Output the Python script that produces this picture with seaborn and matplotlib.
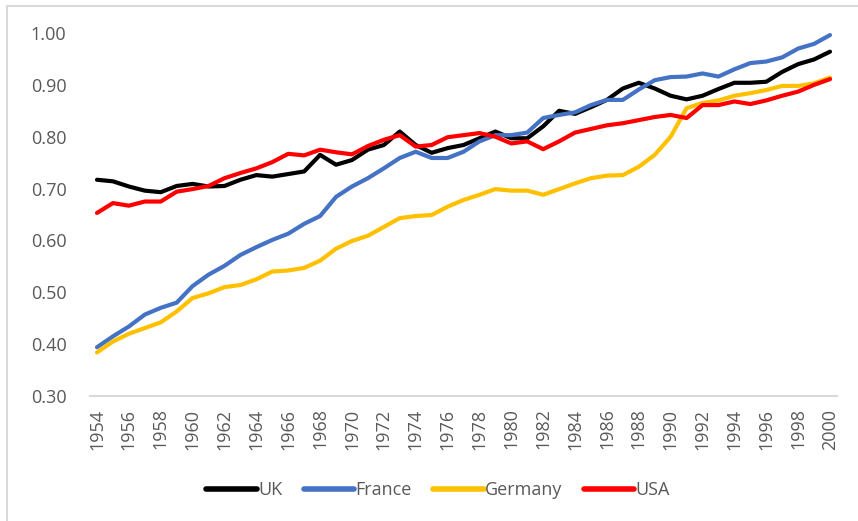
import numpy as np
import pandas as pd
import matplotlib
matplotlib.use("Agg")
import matplotlib.pyplot as plt
import seaborn as sns
from matplotlib.lines import Line2D

years = list(range(1954, 2001))

uk = [0.717, 0.714, 0.704, 0.696, 0.693, 0.705, 0.709, 0.704, 0.705, 0.717,
      0.726, 0.723, 0.728, 0.733, 0.765, 0.746, 0.755, 0.775, 0.784, 0.810,
      0.784, 0.769, 0.778, 0.784, 0.797, 0.810, 0.797, 0.797, 0.820, 0.850,
      0.844, 0.857, 0.871, 0.893, 0.904, 0.893, 0.879, 0.872, 0.879, 0.892,
      0.904, 0.904, 0.906, 0.925, 0.940, 0.949, 0.964]

france = [0.394, 0.415, 0.434, 0.457, 0.470, 0.480, 0.512, 0.534, 0.551, 0.572,
          0.587, 0.601, 0.613, 0.632, 0.647, 0.684, 0.704, 0.720, 0.739, 0.759,
          0.771, 0.759, 0.759, 0.771, 0.791, 0.803, 0.803, 0.808, 0.836, 0.842,
          0.847, 0.861, 0.871, 0.871, 0.891, 0.909, 0.915, 0.916, 0.922, 0.916,
          0.930, 0.942, 0.945, 0.953, 0.970, 0.979, 0.996]

germany = [0.384, 0.405, 0.420, 0.431, 0.442, 0.463, 0.489, 0.498, 0.510, 0.514,
           0.525, 0.540, 0.542, 0.547, 0.561, 0.584, 0.599, 0.609, 0.626, 0.643,
           0.647, 0.649, 0.665, 0.678, 0.688, 0.699, 0.696, 0.696, 0.688, 0.699,
           0.710, 0.720, 0.725, 0.726, 0.742, 0.765, 0.800, 0.855, 0.865, 0.870,
           0.879, 0.884, 0.890, 0.898, 0.898, 0.903, 0.914]

usa = [0.653, 0.672, 0.667, 0.675, 0.675, 0.694, 0.699, 0.705, 0.720, 0.730,
       0.739, 0.751, 0.767, 0.764, 0.775, 0.770, 0.766, 0.782, 0.794, 0.803,
       0.781, 0.784, 0.799, 0.803, 0.807, 0.800, 0.787, 0.791, 0.776, 0.791,
       0.808, 0.815, 0.822, 0.826, 0.832, 0.838, 0.842, 0.836, 0.861, 0.861,
       0.868, 0.863, 0.870, 0.879, 0.887, 0.900, 0.911]

series_names = ["UK", "France", "Germany", "USA"]
colors = ["#000000", "#4472C4", "#FFC000", "#FF0000"]
y_ticks = [0.30, 0.40, 0.50, 0.60, 0.70, 0.80, 0.90, 1.00]
x_ticks = list(range(1954, 2001, 2))

df = pd.DataFrame({
    "year": years * 4,
    "value": uk + france + germany + usa,
    "country": sum([[n] * len(years) for n in series_names], []),
})

sns.set_theme(style="white")
plt.rcParams["font.family"] = ["Open Sans", "DejaVu Sans"]

fig = plt.figure(figsize=(8.58, 5.21), dpi=100)
ax = fig.add_axes([90 / 858, 1 - 396 / 521, 747 / 858, (396 - 33) / 521])

sns.lineplot(data=df, x="year", y="value", hue="country", hue_order=series_names,
             palette=colors, linewidth=3.0, ax=ax, legend=True)

ax.set_xlim(1954 - 7 / 15.93, 2000 + 7 / 15.93)
ax.set_ylim(0.30, 1.00)
ax.set_yticks(y_ticks)
ax.set_yticklabels([f"{v:.2f}" for v in y_ticks])
ax.set_xticks(x_ticks)
ax.set_xticklabels([str(v) for v in x_ticks], rotation=90)
ax.set_xlabel("")
ax.set_ylabel("")
ax.tick_params(axis="y", length=0, pad=17, labelsize=13, labelcolor="#595959")
ax.tick_params(axis="x", length=0, pad=9, labelsize=13, labelcolor="#595959")
for s in ["top", "right", "left"]:
    ax.spines[s].set_visible(False)
ax.spines["bottom"].set_color("#d9d9d9")
ax.spines["bottom"].set_linewidth(1.5)
ax.grid(False)

h, l = ax.get_legend_handles_labels()
ax.legend_.remove()
leg = fig.legend(h, l, loc="center", bbox_to_anchor=(438 / 858, 1 - 490 / 521),
                 ncol=4, frameon=False, handlelength=2.8, handletextpad=0.05,
                 columnspacing=1.2, fontsize=13)
for line in leg.get_lines():
    line.set_linewidth(4.0)
for t in leg.get_texts():
    t.set_color("#595959")

# chart border (light gray), as in the reference
fig.add_artist(Line2D([7 / 858, 7 / 858], [0, 1 - 6 / 521], transform=fig.transFigure,
                      color="#d9d9d9", linewidth=1.5))
fig.add_artist(Line2D([7 / 858, 1], [1 - 6 / 521, 1 - 6 / 521], transform=fig.transFigure,
                      color="#d9d9d9", linewidth=1.5))

fig.savefig("out.png", dpi=100)
